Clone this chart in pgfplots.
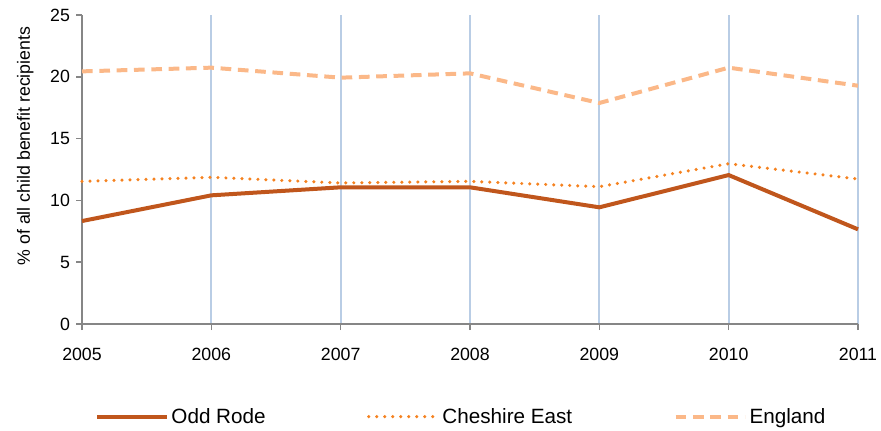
\documentclass[border=0pt]{standalone}
\usepackage{pgfplots}
\pgfplotsset{compat=1.18}
\usepackage{fontspec}
\setmainfont{Liberation Sans}
\definecolor{oddrode}{HTML}{C0561C}
\definecolor{cheshire}{HTML}{F58220}
\definecolor{england}{HTML}{FBB888}
\definecolor{gridblue}{HTML}{B9CDE5}
\definecolor{axisgray}{HTML}{868686}
\begin{document}
\begin{tikzpicture}[x=1pt,y=1pt]
\path[use as bounding box] (0,0) rectangle (660.75,322.5);
\begin{axis}[
  scale only axis, width=582pt, height=231.75pt,
  at={(61.5pt,79.5pt)}, anchor=south west,
  xmin=2005, xmax=2011, ymin=0, ymax=25,
  xtick={2005,2006,...,2011}, ytick={0,5,...,25},
  /pgf/number format/assume math mode=true,
  xticklabel style={/pgf/number format/1000 sep=, yshift=-10pt},
  yticklabel style={xshift=-1pt},
  tick label style={font=\fontsize{13.3}{16}\selectfont},
  axis lines=left, axis line style={-, axisgray, line width=1.2pt},
  tick style={axisgray, line width=1.2pt},
  tick align=outside, major tick length=4.5pt,
  xmajorgrids, major x grid style={gridblue, line width=1.4pt},
  clip=false,
  ylabel={\% of all child benefit recipients},
  ylabel style={font=\fontsize{13.3}{16}\selectfont, at={(axis description cs:-0.073,0.576)}, anchor=center},
  legend columns=3,
  legend style={draw=none, fill=none, at={(axis description cs:0.017,-0.30)}, anchor=west,
    font=\fontsize{15.5}{18}\selectfont, inner sep=0pt,
    /tikz/every even column/.append style={column sep=74pt}},
  legend image code/.code={\draw[#1] (0pt,0pt) -- (52pt,0pt);},
]
\addplot[oddrode, line width=3pt] coordinates {
(2005,8.33) (2006,10.41) (2007,11.06) (2008,11.06) (2009,9.44) (2010,12.05) (2011,7.66)};
\addlegendentry{Odd Rode}
\addplot[cheshire, line width=2.6pt, line cap=round, dash pattern=on 0pt off 6pt] coordinates {
(2005,11.54) (2006,11.87) (2007,11.41) (2008,11.54) (2009,11.11) (2010,12.97) (2011,11.73)};
\addlegendentry{Cheshire East}
\addplot[england, line width=3pt, dash pattern=on 8pt off 5pt] coordinates {
(2005,20.44) (2006,20.74) (2007,19.93) (2008,20.28) (2009,17.88) (2010,20.74) (2011,19.28)};
\addlegendentry{England}
\end{axis}
\end{tikzpicture}
\end{document}
